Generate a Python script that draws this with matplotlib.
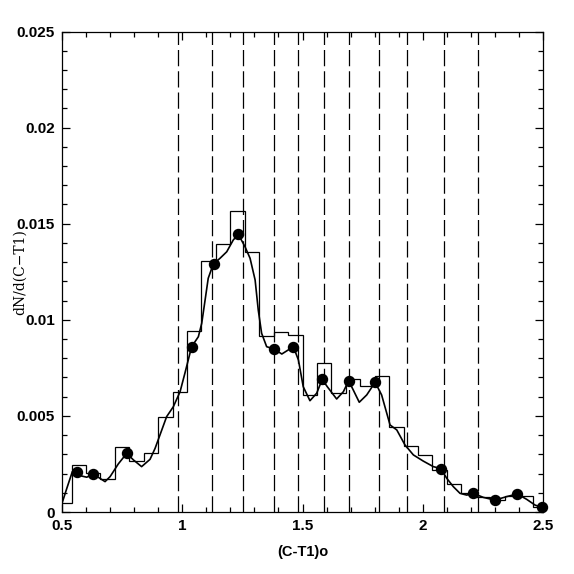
import matplotlib
matplotlib.use("Agg")
import matplotlib.pyplot as plt
from matplotlib.ticker import MultipleLocator

# ── data ──────────────────────────────────────────────────────────────────────
HIST_EDGES = [0.48, 0.54, 0.60, 0.66, 0.72, 0.78, 0.84, 0.90, 0.96, 1.02, 1.08,
              1.14, 1.20, 1.26, 1.32, 1.38, 1.44, 1.50, 1.56, 1.62, 1.68, 1.74,
              1.80, 1.86, 1.92, 1.98, 2.04, 2.10, 2.16, 2.22, 2.28, 2.34, 2.40,
              2.46, 2.52]
HIST_VALUES = [0.00045, 0.00245, 0.00201, 0.00170, 0.00337, 0.00267, 0.00305,
               0.00496, 0.00626, 0.00943, 0.01306, 0.01393, 0.01568, 0.01351,
               0.00917, 0.00938, 0.00919, 0.00609, 0.00775, 0.00617, 0.00694,
               0.00654, 0.00709, 0.00441, 0.00343, 0.00297, 0.00219, 0.00146,
               0.00097, 0.00078, 0.00062, 0.00083, 0.00083, 0.00026]

CURVE_X = [0.500, 0.520, 0.543, 0.561, 0.582, 0.603, 0.630, 0.658, 0.679, 0.700,
           0.734, 0.769, 0.797, 0.831, 0.866, 0.887, 0.915, 0.935, 0.963, 0.991,
           1.011, 1.039, 1.067, 1.081, 1.095, 1.108, 1.129, 1.157, 1.185, 1.212,
           1.233, 1.261, 1.282, 1.303, 1.316, 1.330, 1.351, 1.382, 1.414, 1.462,
           1.483, 1.503, 1.531, 1.559, 1.582, 1.603, 1.642, 1.670, 1.692, 1.711,
           1.736, 1.767, 1.802, 1.829, 1.864, 1.892, 1.926, 1.961, 2.002, 2.044,
           2.075, 2.100, 2.127, 2.155, 2.183, 2.210, 2.252, 2.300, 2.349, 2.393,
           2.432, 2.467, 2.495]
CURVE_Y = [0.00045, 0.00123, 0.00210, 0.00210, 0.00187, 0.00181, 0.00198, 0.00175,
           0.00158, 0.00184, 0.00250, 0.00305, 0.00271, 0.00236, 0.00274, 0.00331,
           0.00427, 0.00496, 0.00548, 0.00626, 0.00722, 0.00860, 0.00912, 0.00982,
           0.01103, 0.01216, 0.01290, 0.01320, 0.01354, 0.01415, 0.01445, 0.01380,
           0.01320, 0.01207, 0.01051, 0.00930, 0.00860, 0.00848, 0.00822, 0.00860,
           0.00791, 0.00652, 0.00579, 0.00618, 0.00690, 0.00652, 0.00588, 0.00626,
           0.00683, 0.00635, 0.00571, 0.00609, 0.00675, 0.00609, 0.00453, 0.00427,
           0.00349, 0.00297, 0.00265, 0.00236, 0.00226, 0.00175, 0.00132, 0.00097,
           0.00088, 0.00097, 0.00076, 0.00062, 0.00080, 0.00094, 0.00066, 0.00036,
           0.00024]

DOT_X = [0.561, 0.630, 0.769, 1.039, 1.130, 1.232, 1.3815, 1.462, 1.582, 1.692,
         1.802, 2.075, 2.211, 2.302, 2.393, 2.496]
DOT_Y = [0.00210, 0.00198, 0.00305, 0.00860, 0.01292, 0.01445, 0.00848, 0.00860,
         0.00690, 0.00683, 0.00675, 0.00226, 0.00097, 0.00062, 0.00093, 0.00024]

DIVIDERS = [0.984, 1.125, 1.251, 1.383, 1.483, 1.588, 1.692, 1.819, 1.936,
            2.090, 2.231]

X_TICKS = [0.5, 1.0, 1.5, 2.0, 2.5]
X_TICK_LABELS = ["0.5", "1", "1.5", "2", "2.5"]
Y_TICKS = [0, 0.005, 0.01, 0.015, 0.02, 0.025]
Y_TICK_LABELS = ["0", "0.005", "0.01", "0.015", "0.02", "0.025"]

# ── figure ────────────────────────────────────────────────────────────────────
fig = plt.figure(figsize=(5.74, 5.74), dpi=100)
ax = fig.add_axes([62 / 574, 62 / 574, 481 / 574, 480.5 / 574])

ax.stairs(HIST_VALUES, HIST_EDGES, fill=False, color="black", linewidth=0.9)
ax.plot(CURVE_X, CURVE_Y, color="black", linewidth=1.2)
ax.plot(DOT_X, DOT_Y, "o", color="black", markersize=7.2, clip_on=False, zorder=5)
for xv in DIVIDERS:
    ax.axvline(xv, color="black", linewidth=0.9, dashes=(13, 4))

ax.set_xlim(0.5, 2.5)
ax.set_ylim(0, 0.025)

ax.set_xticks(X_TICKS)
ax.set_xticklabels(X_TICK_LABELS)
ax.set_yticks(Y_TICKS)
ax.set_yticklabels(Y_TICK_LABELS)
ax.xaxis.set_minor_locator(MultipleLocator(0.1))
ax.yaxis.set_minor_locator(MultipleLocator(0.001))
ax.tick_params(which="both", direction="in", top=True, right=True,
               width=0.9, labelsize=11)
ax.tick_params(which="major", length=6, pad=5)
ax.tick_params(which="minor", length=3.3)
for lab in ax.get_xticklabels() + ax.get_yticklabels():
    lab.set_fontweight("bold")
    lab.set_family("Liberation Sans")
for sp in ax.spines.values():
    sp.set_linewidth(0.9)

ax.set_xlabel("(C-T1)o", fontsize=10.5, fontweight="bold", family="Liberation Sans")
ax.xaxis.set_label_coords(0.5, -0.068)
ax.set_ylabel("dN/d(C\u2212T1)", fontsize=10, family="DejaVu Serif")
ax.yaxis.set_label_coords(-0.072, 0.5)

fig.savefig("out.png", dpi=100)
